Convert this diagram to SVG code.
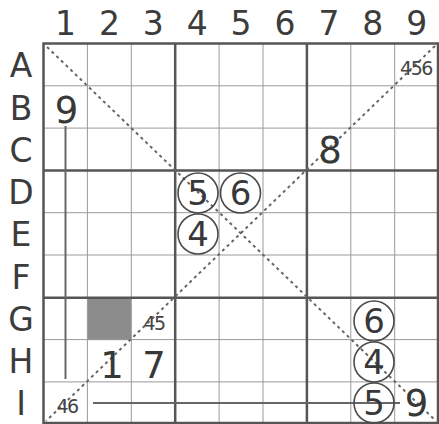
<svg xmlns="http://www.w3.org/2000/svg" width="439" height="424" viewBox="0 0 439 424">
<style>
.thin{stroke:#9a9a9a;stroke-width:1;fill:none}
.thick{stroke:#555;stroke-width:2.5;fill:none}
.lbl{font-family:"DejaVu Sans",Verdana,sans-serif;font-size:33px;fill:#3c3c3c;text-anchor:middle}
.big{font-family:"DejaVu Sans",Verdana,sans-serif;font-size:37px;fill:#383838;text-anchor:middle}
.cir{font-family:"DejaVu Sans",Verdana,sans-serif;font-size:34px;fill:#383838;text-anchor:middle}
.sm{font-family:"DejaVu Sans",Verdana,sans-serif;font-size:19px;fill:#444;text-anchor:middle;letter-spacing:-1.5px}
.ring{fill:none;stroke:#4a4a4a;stroke-width:1.6}
.dot{stroke:#666;stroke-width:2;stroke-dasharray:3 3.5;fill:none}
.bar{stroke:#666;stroke-width:2;fill:none}
</style>
<rect width="439" height="424" fill="#fff"/>
<g id="labels">
<text class="lbl" x="65.5" y="35">1</text>
<text class="lbl" x="109.4" y="35">2</text>
<text class="lbl" x="153.3" y="35">3</text>
<text class="lbl" x="197.2" y="35">4</text>
<text class="lbl" x="241.1" y="35">5</text>
<text class="lbl" x="285" y="35">6</text>
<text class="lbl" x="328.9" y="35">7</text>
<text class="lbl" x="372.8" y="35">8</text>
<text class="lbl" x="416.7" y="35">9</text>
<text class="lbl" x="21" y="77">A</text>
<text class="lbl" x="21" y="119.5">B</text>
<text class="lbl" x="21" y="161.5">C</text>
<text class="lbl" x="21" y="204">D</text>
<text class="lbl" x="21" y="246">E</text>
<text class="lbl" x="21" y="288.5">F</text>
<text class="lbl" x="21" y="331">G</text>
<text class="lbl" x="21" y="373">H</text>
<text class="lbl" x="21" y="415" font-family="'DejaVu Sans Mono',monospace">I</text>
</g>
<g id="shade">
<rect x="87.4" y="297.8" width="43.9" height="42.3" fill="#8c8c8c"/>
</g>
<g id="grid">
<path class="thin" d="M87.4 43.5V424M131.3 43.5V424M219.1 43.5V424M263 43.5V424M350.8 43.5V424M394.7 43.5V424M43.5 85.8H438M43.5 128.1H438M43.5 212.7H438M43.5 255H438M43.5 339.6H438M43.5 381.9H438"/>
<path class="thick" d="M175.2 43.5V424M306.9 43.5V424M43.5 170.4H438M43.5 297.7H438"/>
<rect class="thick" x="43.5" y="43.5" width="394.5" height="379.5"/>
</g>
<g id="connectors">
<path class="dot" d="M47 47L436 421"/>
<path class="dot" d="M435 46L46 421"/>
<path class="bar" d="M65.5 126V379"/>
<path class="bar" d="M93 403H400"/>
</g>
<g id="A9"><text class="sm" x="416" y="75">456</text></g>
<g id="B1"><text class="big" x="66.5" y="123">9</text></g>
<g id="C7"><text class="big" x="330" y="163">8</text></g>
<g id="D4"><circle class="ring" cx="198" cy="193" r="20"/><text class="cir" x="198" y="205">5</text></g>
<g id="D5"><circle class="ring" cx="240.5" cy="193" r="20"/><text class="cir" x="240.5" y="205">6</text></g>
<g id="E4"><circle class="ring" cx="198" cy="234" r="20"/><text class="cir" x="198" y="246">4</text></g>
<g id="G3"><text class="sm" x="154" y="330">45</text></g>
<g id="G8"><circle class="ring" cx="374" cy="321" r="20"/><text class="cir" x="374" y="333">6</text></g>
<g id="H2"><text class="big" x="112" y="378">1</text></g>
<g id="H3"><text class="big" x="154" y="378">7</text></g>
<g id="H8"><circle class="ring" cx="374" cy="362" r="20"/><text class="cir" x="374" y="374">4</text></g>
<g id="I1"><text class="sm" x="67" y="413">46</text></g>
<g id="I8"><circle class="ring" cx="374" cy="403" r="20"/><text class="cir" x="374" y="415">5</text></g>
<g id="I9"><text class="big" x="416.5" y="416" font-size="35">9</text></g>
</svg>
